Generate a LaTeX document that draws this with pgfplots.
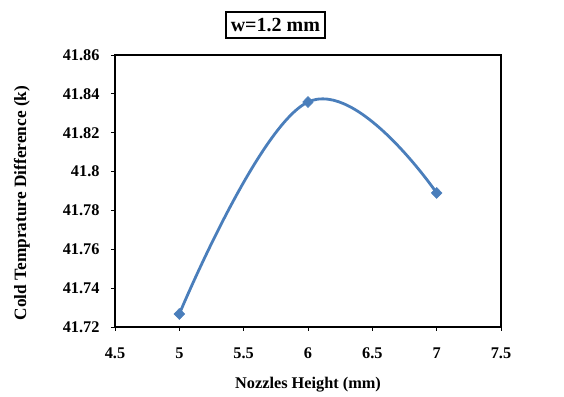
\documentclass[border=0pt]{standalone}
\usepackage{pgfplots}
\pgfplotsset{compat=1.18}
\usepackage{fontspec}
\setmainfont{Liberation Serif}
\definecolor{xlblue}{HTML}{4A7EBB}
\begin{document}
\begin{tikzpicture}
\begin{axis}[
  scale only axis,
  width=386bp, height=272bp,
  xmin=4.5, xmax=7.5, ymin=41.72, ymax=41.86,
  xtick={4.5,5,5.5,6,6.5,7,7.5},
  ytick={41.72,41.74,41.76,41.78,41.8,41.82,41.84,41.86},
  /pgf/number format/assume math mode=true,
  xticklabel style={/pgf/number format/fixed, /pgf/number format/precision=1, yshift=-13bp},
  yticklabel style={/pgf/number format/fixed, /pgf/number format/precision=2, xshift=-8bp},
  ticklabel style={font=\fontsize{16.3bp}{18bp}\selectfont\bfseries},
  tick align=outside,
  tick style={black, line width=0.8pt},
  major tick length=4bp,
  xtick pos=bottom, ytick pos=left,
  axis line style={black, line width=1.6pt},
  xlabel={Nozzles Height (mm)},
  ylabel={Cold Temprature Difference (k)},
  label style={font=\fontsize{16.3bp}{18bp}\selectfont\bfseries},
  xlabel style={at={(rel axis cs:0.5,0)}, anchor=center, yshift=-58bp},
  ylabel style={at={([xshift=-93bp,yshift=-12bp]rel axis cs:0,0.5)}, anchor=center, font=\fontsize{17.3bp}{19bp}\selectfont\bfseries},
  clip=false,
]
\addplot[color=xlblue, line width=2.8bp, smooth, tension=0.7,
  mark=diamond*, mark size=5.5bp, mark options={fill=xlblue, draw=xlblue, line width=0.5pt, xscale=1.3}]
  coordinates {(5,41.7267) (6,41.8358) (7,41.789)};
\coordinate (sw) at (rel axis cs:0,0);
\coordinate (tt) at (rel axis cs:0.4155,1);
\end{axis}
\node[draw, line width=1.8pt, inner xsep=5bp, inner ysep=6bp, font=\fontsize{20bp}{22bp}\selectfont\bfseries] at ([yshift=30bp]tt) {w=1.2 mm};
\path[use as bounding box] (sw) ++(-115bp,-70bp) rectangle ++(564bp,397bp);
\end{tikzpicture}
\end{document}
